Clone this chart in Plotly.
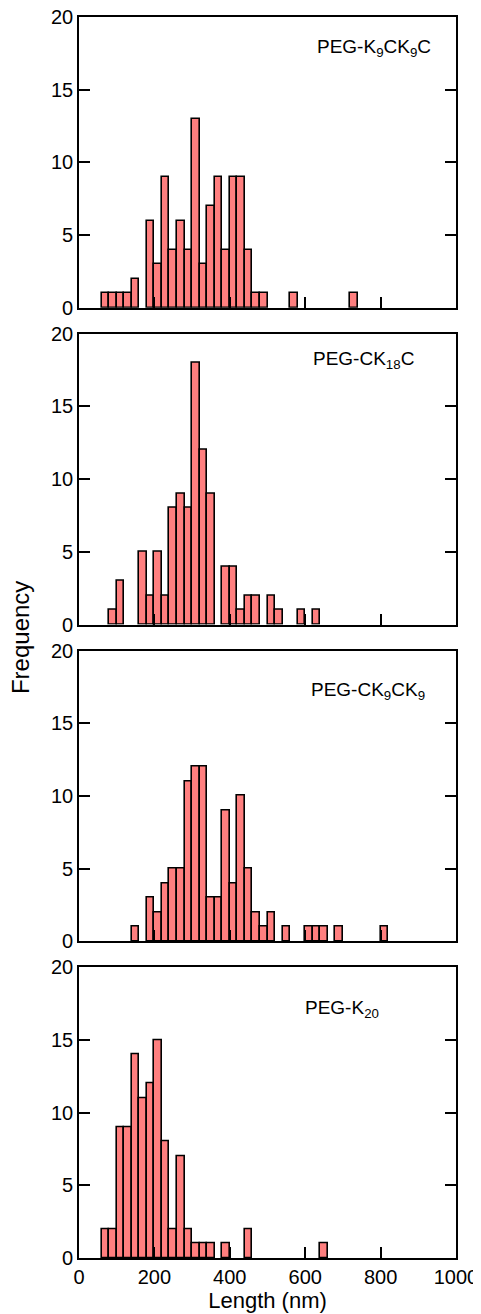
import plotly.graph_objects as go
from plotly.subplots import make_subplots

# Bin starts (nm), bin width 20 nm, and counts for each panel
bin_width = 20

p1_bins = [60, 80, 100, 120, 140, 180, 200, 220, 240, 260, 280, 300, 320, 340, 360, 380, 400, 420, 440, 460, 480, 560, 720]
p1_counts = [1, 1, 1, 1, 2, 6, 3, 9, 4, 6, 4, 13, 3, 7, 9, 4, 9, 9, 4, 1, 1, 1, 1]

p2_bins = [80, 100, 160, 180, 200, 220, 240, 260, 280, 300, 320, 340, 380, 400, 420, 440, 460, 500, 520, 580, 620]
p2_counts = [1, 3, 5, 2, 5, 2, 8, 9, 8, 18, 12, 9, 4, 4, 1, 2, 2, 2, 1, 1, 1]

p3_bins = [140, 180, 200, 220, 240, 260, 280, 300, 320, 340, 360, 380, 400, 420, 440, 460, 480, 500, 540, 600, 620, 640, 680, 800]
p3_counts = [1, 3, 2, 4, 5, 5, 11, 12, 12, 3, 3, 9, 4, 10, 5, 2, 1, 2, 1, 1, 1, 1, 1, 1]

p4_bins = [60, 80, 100, 120, 140, 160, 180, 200, 220, 240, 260, 280, 300, 320, 340, 380, 440, 640]
p4_counts = [2, 2, 9, 9, 14, 11, 12, 15, 8, 2, 7, 2, 1, 1, 1, 1, 2, 1]

labels = ["PEG-K<sub>9</sub>CK<sub>9</sub>C", "PEG-CK<sub>18</sub>C",
          "PEG-CK<sub>9</sub>CK<sub>9</sub>", "PEG-K<sub>20</sub>"]
label_x = [626, 616, 610, 594]
label_y = [17.9, 18.2, 17.2, 17.1]

y_ticks = [0, 5, 10, 15, 20]
x_ticks = [0, 200, 400, 600, 800, 1000]

panels = [(p1_bins, p1_counts), (p2_bins, p2_counts), (p3_bins, p3_counts), (p4_bins, p4_counts)]

# The page body adds an 8 px margin; size the figure to fit the window
W, H = 473, 1306
ml, mr, mt, mb = 70.5, 25, 9.3, 55.7
plot_h = H - mt - mb
gap = 26
vs = gap / plot_h

fig = make_subplots(rows=4, cols=1, vertical_spacing=vs, shared_xaxes=False)

FONT = "Liberation Sans, Arial, Helvetica, sans-serif"

for i, (bins, counts) in enumerate(panels):
    r = i + 1
    fig.add_trace(go.Bar(
        x=[b + bin_width / 2 for b in bins], y=counts, width=bin_width,
        marker=dict(color="#FF7F7F", line=dict(color="black", width=1.6)),
        showlegend=False), row=r, col=1)
    fig.update_xaxes(range=[0, 1000], tickvals=x_ticks, ticks="inside", ticklen=11,
                     tickwidth=1.6, tickcolor="black", showline=True, linecolor="black",
                     linewidth=1.6, mirror=True, showgrid=False, zeroline=False,
                     automargin=False, ticklabeloverflow="allow",
                     showticklabels=(r == 4), tickfont=dict(family=FONT, size=20, color="black"),
                     row=r, col=1)
    fig.update_yaxes(range=[0, 20], tickvals=y_ticks, ticks="inside", ticklen=11,
                     tickwidth=1.6, tickcolor="black", showline=True, linecolor="black",
                     linewidth=1.6, mirror="ticks", showgrid=False, zeroline=False,
                     automargin=False, ticklabeloverflow="allow",
                     tickfont=dict(family=FONT, size=20, color="black"),
                     row=r, col=1)
    fig.add_annotation(x=label_x[i], y=label_y[i], text=labels[i], showarrow=False,
                       xanchor="left", yanchor="middle",
                       font=dict(family=FONT, size=19, color="black"),
                       xref=f"x{'' if r == 1 else r}", yref=f"y{'' if r == 1 else r}")

fig.update_xaxes(title_text="Length (nm)", title_font=dict(family=FONT, size=22, color="black"),
                 title_standoff=0, row=4, col=1)

fig.add_annotation(x=-0.155, y=0.5, xref="paper", yref="paper", text="Frequency",
                   textangle=-90, showarrow=False, xanchor="center", yanchor="middle",
                   font=dict(family=FONT, size=24, color="black"))

fig.update_layout(width=W, height=H, margin=dict(l=ml, r=mr, t=mt, b=mb),
                  paper_bgcolor="white", plot_bgcolor="white", bargap=0)

fig.write_html("out.html")
